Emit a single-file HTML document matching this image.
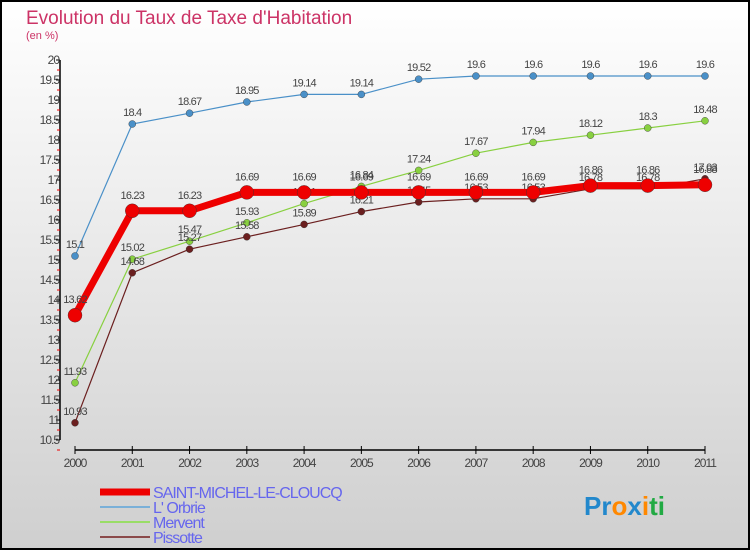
<!DOCTYPE html>
<html><head><meta charset="utf-8"><style>
body{margin:0;}
svg{display:block;font-family:"Liberation Sans",sans-serif;}
</style></head><body>
<svg id="chart" width="750" height="550" xmlns="http://www.w3.org/2000/svg">
<defs><linearGradient id="bg" x1="0" y1="0" x2="0" y2="1"><stop offset="0" stop-color="#ffffff"/><stop offset="1" stop-color="#cfcfcf"/></linearGradient></defs>
<rect x="1" y="1" width="748" height="548" fill="url(#bg)" stroke="#000" stroke-width="2"/>
<text x="26" y="24" font-size="19" fill="#cc3366">Evolution du Taux de Taxe d'Habitation</text>
<text x="26" y="39" font-size="11" fill="#cc3366">(en %)</text>
<g id="axes"></g><g id="series"></g><g id="legend"></g>
<text x="584" y="515" font-size="26" font-weight="bold"><tspan fill="#2288cc">Pr</tspan><tspan fill="#ff8800">o</tspan><tspan fill="#2288cc">x</tspan><tspan fill="#ff8800">i</tspan><tspan fill="#22aa44">ti</tspan></text>
</svg>
<script>
const years=[2000,2001,2002,2003,2004,2005,2006,2007,2008,2009,2010,2011];
const yTicks=[10.5,11,11.5,12,12.5,13,13.5,14,14.5,15,15.5,16,16.5,17,17.5,18,18.5,19,19.5,20];
const seriesNames=["SAINT-MICHEL-LE-CLOUCQ","L' Orbrie","Mervent","Pissotte"];
const saintMichel=[13.62,16.23,16.23,16.69,16.69,16.69,16.69,16.69,16.69,16.86,16.86,16.88];
const orbrie=[15.1,18.4,18.67,18.95,19.14,19.14,19.52,19.6,19.6,19.6,19.6,19.6];
const mervent=[11.93,15.02,15.47,15.93,16.41,16.84,17.24,17.67,17.94,18.12,18.3,18.48];
const pissotte=[10.93,14.68,15.27,15.58,15.89,16.21,16.45,16.53,16.53,16.78,16.78,17.03];
const NS="http://www.w3.org/2000/svg";
const xS=i=>75+i*(630/11);
const yS=v=>60+(20-v)*40;
function mk(tag,attrs,parent,txt){const e=document.createElementNS(NS,tag);for(const k in attrs)e.setAttribute(k,attrs[k]);if(txt!==undefined)e.textContent=txt;parent.appendChild(e);return e;}
const ax=document.getElementById('axes');
let l=mk('line',{x1:60,y1:yS(20),x2:60,y2:yS(10.5),stroke:'#000','stroke-width':1.5},ax);


yTicks.forEach(v=>{
 let t=mk('line',{x1:56,y1:yS(v),x2:60,y2:yS(v),stroke:'#000'},ax);
 
 
 let m=mk('line',{x1:57,y1:yS(v)+10,x2:60,y2:yS(v)+10,stroke:'#e00'},ax);
 
 
 let tx=mk('text',{x:59,y:yS(v)+4,'font-size':12,'text-anchor':'end',fill:'#444','letter-spacing':'-1'},ax,String(v));
 
 
});
l=mk('line',{x1:75,y1:450,x2:705,y2:450,stroke:'#000','stroke-width':1.5},ax);


years.forEach((y,i)=>{
 let t=mk('line',{x1:xS(i),y1:446,x2:xS(i),y2:454,stroke:'#000'},ax);
 
 
 let tx=mk('text',{x:xS(i),y:467,'font-size':12,'text-anchor':'middle',fill:'#444','letter-spacing':'-1'},ax,String(y));
 
 
});
const sg=document.getElementById('series');
const defs=[[orbrie,'#4a90c8',1.2,3.5,'orbrie'],[mervent,'#88d040',1.2,3.5,'mervent'],[pissotte,'#6b1f1f',1.2,3.5,'pissotte'],[saintMichel,'#ee0000',7,7,'saint-michel']];
defs.forEach(([vals,c,w,r,n])=>{
 const g=mk('g',{},sg);
 
 
 let p=mk('polyline',{points:vals.map((v,i)=>xS(i)+','+yS(v)).join(' '),fill:'none',stroke:c,'stroke-width':w},g);
 
 
 vals.forEach((v,i)=>{
  let ci=mk('circle',{cx:xS(i),cy:yS(v),r:r,fill:c,stroke:'#333','stroke-width':0.4},g);
  
  
  let tx=mk('text',{x:xS(i),y:yS(v)-(n==='saint-michel'?12:8),'font-size':11,'text-anchor':'middle',fill:'#444','letter-spacing':'-0.8'},g,String(v));
  
  
 });
});
const lg=document.getElementById('legend');
const lc=['#ee0000','#7ab0d8','#99dd66','#8b4a4a'],lw=[7,2,2,2];
seriesNames.forEach((nm,i)=>{
 const y=492+i*15;
 let ln=mk('line',{x1:100,y1:y,x2:150,y2:y,stroke:lc[i],'stroke-width':lw[i]},lg);
 
 
 let tx=mk('text',{x:153,y:y+6,'font-size':16,fill:'#6666ee','letter-spacing':'-1'},lg,nm);
 
 
});
</script>
</body></html>
